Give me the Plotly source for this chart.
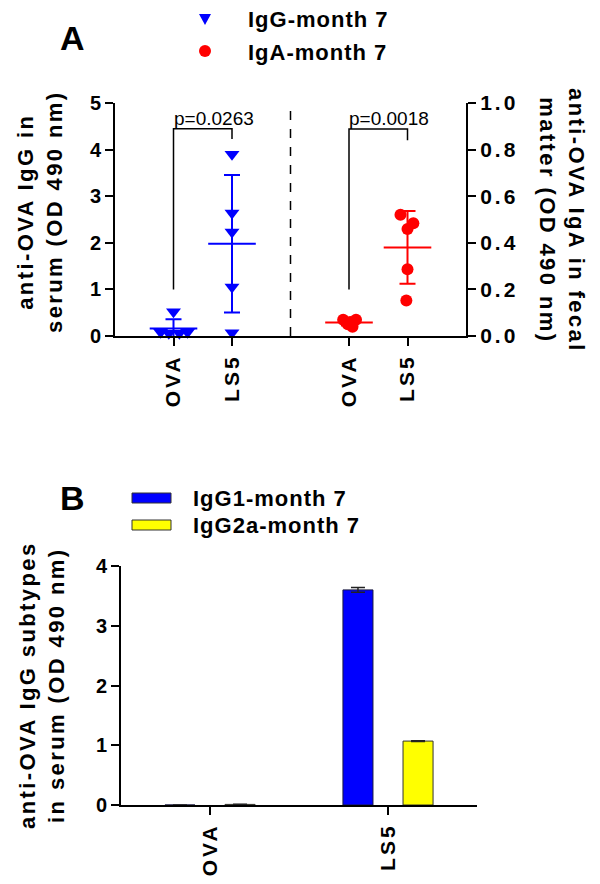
import numpy as np
import plotly.graph_objects as go

W, H = 600, 884
OFF = 8  # page body margin in the browser
def px(x): return (x - OFF) / W
def py(y): return 1 - (y - OFF) / H

FONT = "Arial, Liberation Sans, sans-serif"
BLUE = "#0000FF"
RED = "#FF0000"
YELLOW = "#FFFF00"

def ls(text, sp):
    return "<br>".join(f'<span style="letter-spacing:{sp}px">{t}</span>' for t in text.split("<br>"))

# ---------------- Panel A data ----------------
groups_a = ["OVA", "LS5", "OVA", "LS5"]
pos_a = [0, 1, 3, 4]
igg_ova = [0.52, 0.08, 0.06, 0.06, 0.08]
igg_ova_jitter = [0.0, -0.22, -0.08, 0.10, 0.24]
igg_ls5 = [3.9, 2.64, 2.23, 1.05, 0.07]
igg_ls5_jitter = [0.0, 0.0, 0.0, 0.0, 0.0]
iga_ova = [0.07, 0.07, 0.05, 0.04, 0.06]
iga_ova_jitter = [-0.1, 0.12, -0.02, 0.06, 0.02]
iga_ls5 = [0.52, 0.484, 0.459, 0.286, 0.152]
iga_ls5_jitter = [-0.12, 0.1, 0.0, 0.0, -0.02]
p_values = ["p=0.0263", "p=0.0018"]
legend_a = ["IgG-month 7", "IgA-month 7"]
y_ticks_a = [0, 1, 2, 3, 4, 5]
y2_ticks_a = [0.0, 0.2, 0.4, 0.6, 0.8, 1.0]

# ---------------- Panel B data ----------------
groups_b = ["OVA", "LS5"]
igg1_mean = [0.0, 3.6]
igg1_err = [0.0, 0.04]
igg2a_mean = [0.01, 1.07]
igg2a_err = [0.003, 0.006]
legend_b = ["IgG1-month 7", "IgG2a-month 7"]
y_ticks_b = [0, 1, 2, 3, 4]

fig = go.Figure()

series_a = [
    (igg_ova, igg_ova_jitter, pos_a[0], "y", BLUE, "triangle-down"),
    (igg_ls5, igg_ls5_jitter, pos_a[1], "y", BLUE, "triangle-down"),
    (iga_ova, iga_ova_jitter, pos_a[2], "y2", RED, "circle"),
    (iga_ls5, iga_ls5_jitter, pos_a[3], "y2", RED, "circle"),
]
for vals, jit, p, yax, col, sym in series_a:
    fig.add_trace(go.Scatter(
        x=[p + j for j in jit], y=vals, xaxis="x", yaxis=yax, mode="markers",
        marker=dict(symbol=sym, size=13 if sym != "circle" else 12, color=col,
                    line=dict(width=0)),
        showlegend=False, cliponaxis=False))
for vals, jit, p, yax, col, sym in series_a:
    m = float(np.mean(vals)); s = float(np.std(vals, ddof=1))
    fig.add_trace(go.Scatter(
        x=[p], y=[m], xaxis="x", yaxis=yax, mode="markers",
        marker=dict(symbol="line-ew", size=34, color=col, line=dict(width=2, color=col)),
        error_y=dict(type="data", array=[s], width=8, thickness=2, color=col),
        showlegend=False))

# ---------------- Panel B bars ----------------
fig.add_trace(go.Bar(x=groups_b, y=igg1_mean, xaxis="x2", yaxis="y3",
                     marker=dict(color=BLUE, line=dict(color="#1a1a40", width=1)),
                     error_y=dict(type="data", array=igg1_err, width=7, thickness=1.5, color="#222"),
                     showlegend=False))
fig.add_trace(go.Bar(x=groups_b, y=igg2a_mean, xaxis="x2", yaxis="y3",
                     marker=dict(color=YELLOW, line=dict(color="#333", width=1)),
                     error_y=dict(type="data", array=igg2a_err, width=7, thickness=1.5, color="#222"),
                     showlegend=False))

tickfont = dict(family=FONT, size=20, color="black", weight="bold")
y2tickfont = dict(family=FONT, size=21, color="black", weight="bold")
xtickfont = dict(family=FONT, size=21, color="black", weight="bold")
axis_common = dict(showline=True, linecolor="black", linewidth=2, ticks="outside",
                   ticklen=8, tickwidth=2, tickcolor="black", showgrid=False,
                   zeroline=False, automargin=False)

fig.update_layout(
    template="none",
    width=W, height=H, margin=dict(l=0, r=0, t=0, b=0, pad=0, autoexpand=False),
    plot_bgcolor="white", paper_bgcolor="white",
    font=dict(family=FONT, color="black"),
    showlegend=False,
    barmode="group", bargap=0.325, bargroupgap=0.5,
    xaxis=dict(domain=[px(115), px(466)], range=[-1, 5], tickvals=pos_a,
               ticktext=[ls(g, 3) for g in groups_a], tickangle=-90, anchor="y",
               tickfont=xtickfont, **axis_common),
    yaxis=dict(domain=[py(336), py(103)], range=[0, 5], tickvals=y_ticks_a,
               ticktext=[str(v) for v in y_ticks_a], anchor="x", tickfont=tickfont, **axis_common),
    yaxis2=dict(domain=[py(336), py(103)], range=[0, 1], tickvals=y2_ticks_a,
                ticktext=[ls(f"{v:.1f}", 3) for v in y2_ticks_a],
                overlaying="y", side="right", anchor="x", tickfont=y2tickfont, **axis_common),
    xaxis2=dict(domain=[px(121), px(477)], range=[-0.5, 1.5], type="category",
                tickvals=groups_b, ticktext=[ls(g, 3) for g in groups_b],
                tickangle=-90, anchor="y3", tickfont=xtickfont, **axis_common),
    yaxis3=dict(domain=[py(805), py(566)], range=[0, 4], tickvals=y_ticks_b,
                ticktext=[str(v) for v in y_ticks_b], anchor="x2", tickfont=tickfont, **axis_common),
)

# dashed divider
fig.add_shape(type="line", xref="x", yref="y", x0=2, x1=2, y0=0, y1=5,
              line=dict(color="black", width=1.5, dash="dash"))

# significance brackets
brackets = [
    (pos_a[0], pos_a[1], 1.0, 4.45, 4.23, "y", p_values[0]),
    (pos_a[2], pos_a[3], 0.2, 0.888, 0.84, "y2", p_values[1]),
]
for xa, xb, ya, ytop, yb, yr, txt in brackets:
    fig.add_shape(type="path", xref="x", yref=yr,
                  path=f"M{xa},{ya} L{xa},{ytop} L{xb},{ytop} L{xb},{yb}",
                  line=dict(color="black", width=1.5))
    fig.add_annotation(x=xa, y=ytop, xref="x", yref=yr, text=txt, showarrow=False,
                       xanchor="left", yanchor="bottom", xshift=-2, yshift=-2,
                       font=dict(family=FONT, size=19, color="black"))

# axis titles
titles = [
    (40, 212, -90, "anti-OVA IgG in<br>serum (OD 490 nm)"),
    (562, 220, 90, "anti-OVA IgA in fecal<br>matter (OD 490 nm)"),
    (42, 685, -90, "anti-OVA IgG subtypes<br>in serum (OD 490 nm)"),
]
for x, y, ang, txt in titles:
    fig.add_annotation(x=px(x), y=py(y), xref="paper", yref="paper", text=ls(txt, 2.4),
                       textangle=ang, showarrow=False, xanchor="center", yanchor="middle",
                       font=dict(family=FONT, size=22, color="black", weight="bold"))

# panel labels
for lab, (x, y) in {"A": (72, 38), "B": (72, 498)}.items():
    fig.add_annotation(x=px(x), y=py(y), xref="paper", yref="paper", text=lab,
                       showarrow=False, xanchor="center", yanchor="middle",
                       font=dict(family=FONT, size=34, color="black", weight="bold"))

# legend A (manual)
fig.add_shape(type="path", xref="paper", yref="paper",
              path=f"M{px(199)},{py(14)} L{px(211)},{py(14)} L{px(205)},{py(25)} Z",
              fillcolor=BLUE, line=dict(width=0))
fig.add_shape(type="circle", xref="paper", yref="paper",
              x0=px(199), x1=px(211), y0=py(57), y1=py(45), fillcolor=RED, line=dict(width=0))
for txt, y in zip(legend_a, [20, 52]):
    fig.add_annotation(x=px(246), y=py(y), xref="paper", yref="paper", text=ls(txt, 1.0),
                       showarrow=False, xanchor="left", yanchor="middle",
                       font=dict(family=FONT, size=22, color="black", weight="bold"))

# legend B (manual)
for col, (y0, y1), txt in zip([BLUE, YELLOW], [(493, 503), (520, 530)], legend_b):
    fig.add_shape(type="rect", xref="paper", yref="paper",
                  x0=px(132), x1=px(171), y0=py(y1), y1=py(y0),
                  fillcolor=col, line=dict(color="#333", width=1))
    fig.add_annotation(x=px(191), y=py((y0 + y1) / 2), xref="paper", yref="paper",
                       text=ls(txt, 1.0), showarrow=False, xanchor="left", yanchor="middle",
                       font=dict(family=FONT, size=22, color="black", weight="bold"))

fig.write_html("out.html")
